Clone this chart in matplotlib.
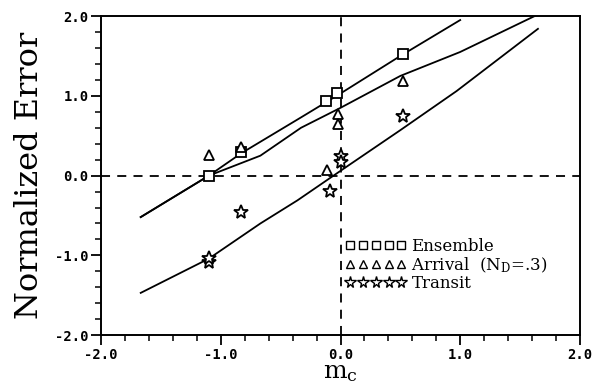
import matplotlib
matplotlib.use("Agg")
import matplotlib.pyplot as plt

# curves
ens_line_x = [-1.67, -1.1, -0.83, -0.33, 0.0, 0.5, 1.0]
ens_line_y = [-0.52, 0.0, 0.28, 0.73, 1.03, 1.5, 1.95]
arr_line_x = [-1.67, -1.1, -0.67, -0.33, 0.0, 0.5, 1.0, 1.65]
arr_line_y = [-0.52, 0.0, 0.25, 0.6, 0.85, 1.25, 1.55, 2.02]
tr_line_x = [-1.67, -1.1, -0.67, -0.36, 0.0, 0.5, 0.97, 1.65]
tr_line_y = [-1.47, -1.04, -0.6, -0.31, 0.06, 0.57, 1.06, 1.84]

# measured points
ens_x = [-1.1, -0.83, -0.12, -0.03, 0.52]
ens_y = [0.0, 0.3, 0.94, 1.04, 1.52]
arr_x = [-1.1, -0.83, -0.11, -0.02, -0.02, 0.52]
arr_y = [0.26, 0.36, 0.07, 0.77, 0.65, 1.18]
tr_x = [-1.1, -1.1, -0.83, -0.09, 0.0, 0.0, 0.52]
tr_y = [-1.08, -1.03, -0.45, -0.19, 0.25, 0.17, 0.75]

xticks = [-2.0, -1.0, 0.0, 1.0, 2.0]
yticks = [-2.0, -1.0, 0.0, 1.0, 2.0]

plt.rcParams["mathtext.fontset"] = "dejavuserif"

fig = plt.figure(figsize=(5.99, 3.92), dpi=100)
ax = fig.add_axes([0.169, 0.145, 0.799, 0.814])

ax.plot(ens_line_x, ens_line_y, color="black", lw=1.3)
ax.plot(arr_line_x, arr_line_y, color="black", lw=1.3)
ax.plot(tr_line_x, tr_line_y, color="black", lw=1.3)

ax.axhline(0.0, color="black", lw=1.3, ls=(0, (5, 4)))
ax.axvline(0.0, color="black", lw=1.3, ls=(0, (5, 4)))

mk = dict(ls="none", mfc="white", mec="black", mew=1.3)
ax.plot(ens_x, ens_y, marker="s", ms=7, label="Ensemble", **mk)
ax.plot(arr_x, arr_y, marker="^", ms=7, label="Arrival  (N$_\\mathrm{D}$=.3)", **mk)
ax.plot(tr_x, tr_y, marker="*", ms=10, label="Transit", **mk)

ax.set_xlim(-2.0, 2.0)
ax.set_ylim(-2.0, 2.0)
ax.set_xticks(xticks)
ax.set_yticks(yticks)
ax.set_xticks([-2 + 0.2 * i for i in range(21)], minor=True)
ax.set_yticks([-2 + 0.2 * i for i in range(21)], minor=True)
ax.set_xticklabels(["%.1f" % v for v in xticks])
ax.set_yticklabels(["%.1f" % v for v in yticks])
ax.tick_params(which="major", direction="out", length=7, width=1.3, pad=2)
ax.tick_params(which="minor", direction="out", length=4, width=1.1)
for lab in ax.get_xticklabels() + ax.get_yticklabels():
    lab.set_family("DejaVu Sans Mono")
    lab.set_fontweight("bold")
    lab.set_fontsize(10)
for s in ax.spines.values():
    s.set_linewidth(1.4)

ax.set_ylabel("Normalized Error", family="DejaVu Serif", fontsize=23)
ax.yaxis.set_label_coords(-0.118, 0.5)
ax.set_xlabel("m$_\\mathrm{c}$", family="DejaVu Serif", fontsize=18)
ax.xaxis.set_label_coords(0.5, -0.08)

leg = ax.legend(loc="upper left", bbox_to_anchor=(0.495, 0.325), frameon=False,
                numpoints=5, markerscale=0.85, handlelength=3.7, handletextpad=0.3,
                labelspacing=0.0, borderaxespad=0,
                prop={"family": "DejaVu Serif", "size": 12})
for h in leg.legend_handles:
    h.set_markeredgewidth(1.0)

fig.savefig("out.png", dpi=100)
